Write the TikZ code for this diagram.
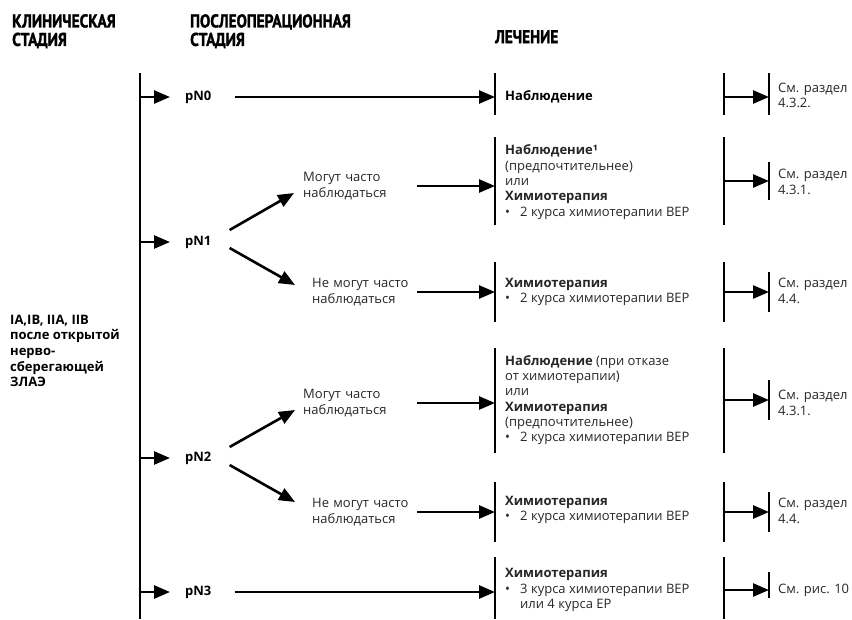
\documentclass[tikz,border=0pt]{standalone}
\usepackage{fontspec}
\setmainfont{Open Sans}
\newfontfamily\headfont{PT Sans}[FakeStretch=0.83, FakeBold=1.6]
\usetikzlibrary{arrows.meta}
\tikzset{
  hdr/.style={font=\headfont\bfseries\fontsize{18.5}{18.5}\selectfont, align=left, anchor=north west, inner sep=0pt},
  txt/.style={font=\fontsize{13}{15.3}\selectfont, text=black!85, align=left, inner sep=0pt, anchor=west},
  btxt/.style={txt, font=\bfseries\fontsize{13}{15.6}\selectfont, text=black},
  bar/.style={line width=2.8pt},
  arr/.style={line width=2.6pt, -{Triangle[length=16pt,width=13pt]}},
  >=Stealth
}
\newcommand{\itm}[1]{\makebox[15pt][l]{\textbullet}#1}

\begin{document}
\begin{tikzpicture}[x=1pt, y=-1pt]
  \useasboundingbox (0,0) rectangle (852,619);
  % headings
  \node[hdr] (hClin) at (12,14) {КЛИНИЧЕСКАЯ\\СТАДИЯ};
  \node[hdr] (hPost) at (190,14) {ПОСЛЕОПЕРАЦИОННАЯ\\СТАДИЯ};
  \node[hdr] (hTreat) at (495,30) {ЛЕЧЕНИЕ};
  \node[btxt] (clin) at (10,351) {IA,IB, IIA, IIB\\после открытой\\нерво-\\сберегающей\\ЗЛАЭ};

  % main stage bar
  \draw[bar] (140,73) -- (140,619);
  \coordinate (s0) at (140,97);
  \coordinate (s1) at (140,242);
  \coordinate (s2) at (140,458);
  \coordinate (s3) at (140,592);

  % pathological stages
  \node[btxt] (p0) at (185,97) {pN0};
  \node[btxt] (p1) at (185,242) {pN1};
  \node[btxt] (p2) at (185,458) {pN2};
  \node[btxt] (p3) at (185,592) {pN3};
  \draw[arr] (s0) -- ([xshift=-15pt]p0.west);
  \draw[arr] (s1) -- ([xshift=-15pt]p1.west);
  \draw[arr] (s2) -- ([xshift=-15pt]p2.west);
  \draw[arr] (s3) -- ([xshift=-15pt]p3.west);

  % follow-up possible or not
  \node[txt, text width=112pt] (m1) at (303,186) {Могут часто\\наблюдаться};
  \node[txt, text width=103pt] (n1) at (312,292) {Не могут часто\\наблюдаться};
  \node[txt, text width=112pt] (m2) at (303,403) {Могут часто\\наблюдаться};
  \node[txt, text width=103pt] (n2) at (312,512) {Не могут часто\\наблюдаться};
  \draw[arr] ([shift={(18,-12)}]p1.east) -- ([shift={(-9,7)}]m1.west);
  \draw[arr] ([shift={(18,6)}]p1.east) -- ([shift={(-17,-7)}]n1.west);
  \draw[arr] ([shift={(18,-11)}]p2.east) -- ([shift={(-8,7)}]m2.west);
  \draw[arr] ([shift={(18,7)}]p2.east) -- ([shift={(-17,-10)}]n2.west);

  % treatment
  \draw[bar] (495,73) -- (495,115);
  \draw[bar] (495,137) -- (495,225);
  \draw[bar] (495,262) -- (495,322);
  \draw[bar] (495,348) -- (495,453);
  \draw[bar] (495,482) -- (495,542);
  \draw[bar] (495,557) -- (495,619);
  \coordinate (t0) at (495,97);
  \coordinate (t1) at (495,186);
  \coordinate (t2) at (495,292);
  \coordinate (t3) at (495,403);
  \coordinate (t4) at (495,512);
  \coordinate (t5) at (495,592);
  \node[btxt] (tr0) at (505,97) {Наблюдение};
  \node[txt] (tr1) at (505,182) {\textbf{Наблюдение¹}\\(предпочтительнее)\\или\\\textbf{Химиотерапия}\\\itm{2 курса химиотерапии BEP}};
  \node[txt] (tr2) at (505,292) {\textbf{Химиотерапия}\\\itm{2 курса химиотерапии BEP}};
  \node[txt] (tr3) at (505,400) {\textbf{Наблюдение} (при отказе\\от химиотерапии)\\или\\\textbf{Химиотерапия}\\(предпочтительнее)\\\itm{2 курса химиотерапии BEP}};
  \node[txt] (tr4) at (505,510) {\textbf{Химиотерапия}\\\itm{2 курса химиотерапии BEP}};
  \node[txt] (tr5) at (505,590) {\textbf{Химиотерапия}\\\itm{3 курса химиотерапии BEP}\\\hspace*{15pt}или 4 курса EP};
  \draw[arr] ([xshift=23pt]p0.east) -- (t0);
  \draw[arr] ([xshift=2pt]m1.east) -- (t1);
  \draw[arr] ([xshift=2pt]n1.east) -- (t2);
  \draw[arr] ([xshift=2pt]m2.east) -- (t3);
  \draw[arr] ([xshift=2pt]n2.east) -- (t4);
  \draw[arr] ([xshift=23pt]p3.east) -- (t5);

  % references
  \draw[bar] (724,73) -- (724,115);
  \draw[bar] (724,137) -- (724,225);
  \draw[bar] (724,262) -- (724,322);
  \draw[bar] (724,348) -- (724,453);
  \draw[bar] (724,482) -- (724,542);
  \draw[bar] (724,557) -- (724,619);
  \draw[bar] (769,73) -- (769,115);
  \draw[bar] (769,162) -- (769,200);
  \draw[bar] (769,272) -- (769,312);
  \draw[bar] (769,380) -- (769,420);
  \draw[bar] (769,492) -- (769,532);
  \draw[bar] (769,572) -- (769,598);
  \coordinate (a0) at (724,97);
  \coordinate (a1) at (724,181);
  \coordinate (a2) at (724,292);
  \coordinate (a3) at (724,400);
  \coordinate (a4) at (724,512);
  \coordinate (a5) at (724,590);
  \coordinate (b0) at (769,97);
  \coordinate (b1) at (769,181);
  \coordinate (b2) at (769,292);
  \coordinate (b3) at (769,400);
  \coordinate (b4) at (769,512);
  \coordinate (b5) at (769,590);
  \draw[arr] (a0) -- (b0);
  \draw[arr] (a1) -- (b1);
  \draw[arr] (a2) -- (b2);
  \draw[arr] (a3) -- (b3);
  \draw[arr] (a4) -- (b4);
  \draw[arr] (a5) -- (b5);
  \node[txt] (r0) at (778,95.5) {См. раздел\\4.3.2.};
  \node[txt] (r1) at (778,182) {См. раздел\\4.3.1.};
  \node[txt] (r2) at (778,291) {См. раздел\\4.4.};
  \node[txt] (r3) at (778,403) {См. раздел\\4.3.1.};
  \node[txt] (r4) at (778,511) {См. раздел\\4.4.};
  \node[txt] (r5) at (778,590) {См. рис. 10};
\end{tikzpicture}
\end{document}
